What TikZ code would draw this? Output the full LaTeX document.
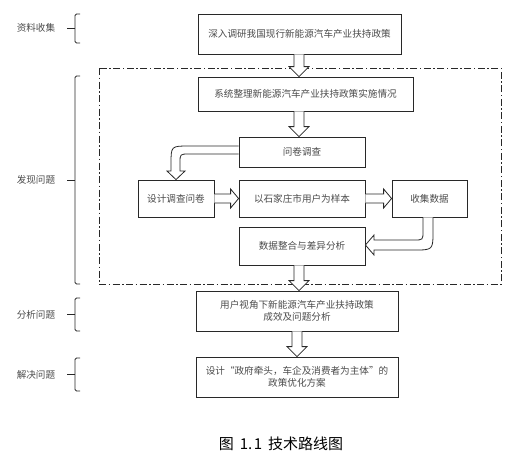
\documentclass[tikz,border=0pt]{standalone}
\usepackage{fontspec}
\setmainfont{Noto Sans CJK SC}
\usepackage{tikz}
\definecolor{LineGray}{RGB}{40, 40, 40}
\definecolor{TextGray}{RGB}{75, 75, 75}
\tikzset{
  box/.style={rectangle, draw=LineGray, line width=0.8pt, fill=white,
    align=center, inner sep=0pt, text=TextGray,
    font=\fontsize{9.6}{12.5}\selectfont},
  lab/.style={text=TextGray, font=\fontsize{9.6}{12}\selectfont},
  brk/.style={draw=LineGray, line width=0.8pt, rounded corners=1.5pt},
  fat/.style={draw=LineGray, line width=0.8pt, fill=white, line join=miter},
  frame/.style={draw=LineGray, line width=0.8pt,
    dash pattern=on 7pt off 2.5pt on 1.5pt off 2.5pt},
}
% hollow arrows: from, to, x (or y) of the shaft
\newcommand{\fatdown}[3]{%
  \coordinate (fs) at (#1.south -| #3,0);
  \coordinate (ft) at (#2.north -| #3,0);
  \draw[fat] ([xshift=-5pt]fs) -- ([xshift=-5pt,yshift=10pt]ft)
    -- ([xshift=-10pt,yshift=10pt]ft) -- (ft)
    -- ([xshift=10pt,yshift=10pt]ft) -- ([xshift=5pt,yshift=10pt]ft)
    -- ([xshift=5pt]fs);}
\newcommand{\fatright}[3]{%
  \coordinate (fs) at (#1.east |- 0,#3);
  \coordinate (ft) at (#2.west |- 0,#3);
  \draw[fat] ([yshift=4.5pt]fs) -- ([xshift=-8pt,yshift=4.5pt]ft)
    -- ([xshift=-8pt,yshift=9.5pt]ft) -- (ft)
    -- ([xshift=-8pt,yshift=-9.5pt]ft) -- ([xshift=-8pt,yshift=-4.5pt]ft)
    -- ([yshift=-4.5pt]fs);}

\begin{document}
\begin{tikzpicture}[x=1pt, y=-1pt]
  \useasboundingbox (0,0) rectangle (527,459);
  \draw[frame] (99,68) rectangle (501,284);

  % left column
  \node[lab] (l1) at (36,28) {资料收集};
  \node[lab] (l2) at (36,180) {发现问题};
  \node[lab] (l3) at (36,315) {分析问题};
  \node[lab] (l4) at (36,374.5) {解决问题};
  \draw[brk] (80,14) -- (75,14) -- (75,43) -- (80,43);
  \draw[brk] (75,28.5) -- (67,28.5);
  \draw[brk] (80,76) -- (75,76) -- (75,284) -- (80,284);
  \draw[brk] (75,180) -- (67,180);
  \draw[brk] (80,298) -- (75,298) -- (75,331) -- (80,331);
  \draw[brk] (75,314.5) -- (67,314.5);
  \draw[brk] (80,358) -- (75,358) -- (75,391) -- (80,391);
  \draw[brk] (75,374.5) -- (67,374.5);

  \node[box, minimum width=203pt, minimum height=40pt] (b1) at (299.5,34)
    {深入调研我国现行新能源汽车产业扶持政策};
  \node[box, minimum width=215pt, minimum height=34pt] (b2) at (305.5,94)
    {系统整理新能源汽车产业扶持政策实施情况};
  \node[box, minimum width=126pt, minimum height=30pt] (q) at (302,152) {问卷调查};
  \node[box, minimum width=76pt, minimum height=37pt] (d) at (176,198.5) {设计调查问卷};
  \node[box, minimum width=126pt, minimum height=37pt] (s) at (302,198.5)
    {以石家庄市用户为样本};
  \node[box, minimum width=75pt, minimum height=37pt] (c) at (429.5,198.5) {收集数据};
  \node[box, minimum width=126pt, minimum height=38pt] (z) at (302,246)
    {数据整合与差异分析};
  \node[box, minimum width=202pt, minimum height=40pt] (a) at (297,311)
    {用户视角下新能源汽车产业扶持政策\\成效及问题分析};
  \node[box, minimum width=202pt, minimum height=40pt] (r) at (297,377)
    {设计“政府牵头，车企及消费者为主体”的\\政策优化方案};

  \fatdown{b1}{b2}{299}
  \fatdown{b2}{q}{299}
  \fatright{d}{s}{198.5}
  \fatright{s}{c}{198.5}
  \fatdown{z}{a}{299}
  \fatdown{a}{r}{297}
  \draw[fat] (q.west |- 0,146) -- (189,146) .. controls (171,146) .. (171,164)
    -- (171,171) -- (167,171) -- (d.north) -- (185,171) -- (180,171)
    -- (180,163) .. controls (180,154) .. (189,154) -- (q.west |- 0,154);
  \draw[fat] (c.south -| 423,0) -- (423,231) .. controls (423,240) .. (414,240)
    -- (374,240) -- (374,235) -- (z.east |- 0,245) -- (374,255) -- (374,250)
    -- (414,250) .. controls (433,250) .. (433,231) -- (c.south -| 433,0);

  \node[font=\fontsize{15}{17}\selectfont] (cap) at (281,444)
    {图\hspace{6pt}1.\hspace{1.5pt}1\hspace{6pt}技术路线图};
\end{tikzpicture}
\end{document}
